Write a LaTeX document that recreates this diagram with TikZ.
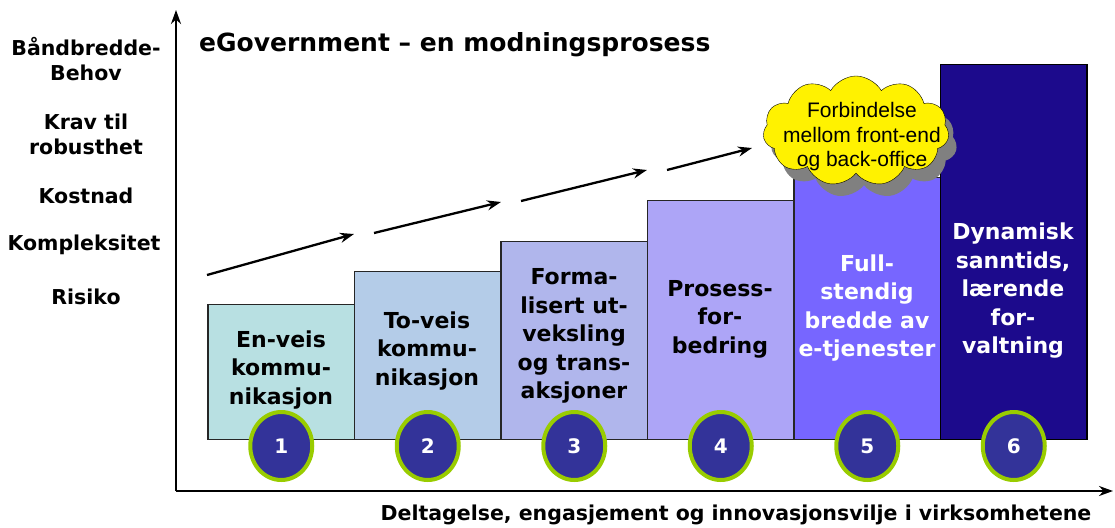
\documentclass[tikz,border=0pt]{standalone}
\usepackage{fontspec}
\setmainfont{DejaVu Sans}
\newfontfamily\cloudfont{Liberation Sans}
\usepackage{tikz}
\usetikzlibrary{arrows.meta,shapes,shadows}
\definecolor{barone}{HTML}{B8E0E2}
\definecolor{bartwo}{HTML}{B4CCE8}
\definecolor{barthree}{HTML}{B0B6EC}
\definecolor{barfour}{HTML}{ADA5F7}
\definecolor{barfive}{HTML}{7766FF}
\definecolor{barsix}{HTML}{1C0A8C}
\definecolor{ballblue}{HTML}{333399}
\definecolor{ballgreen}{HTML}{99CC00}

\begin{document}
\begin{tikzpicture}[x=1pt,y=-1pt,>={Stealth[length=14pt,width=10pt]},
                    every node/.style={inner sep=0pt}]
  \tikzstyle{bar}=[draw=black!85,line width=1.3pt,minimum width=146.5pt,anchor=south]
  \tikzstyle{barlabel}=[align=center,font=\fontsize{22}{28.5}\selectfont\bfseries]
  \tikzstyle{sidelabel}=[align=center,font=\fontsize{20.5}{25}\selectfont\bfseries]
  \tikzstyle{ball}=[ellipse,fill=ballblue,draw=ballgreen,line width=4pt,
                    minimum width=62pt,minimum height=68pt,text=white,
                    font=\fontsize{20}{24}\selectfont\bfseries]
  \tikzstyle{axis}=[->,line width=2.6pt]
  \tikzstyle{trend}=[->,line width=2.3pt]

  \useasboundingbox (0,0) rectangle (1115,527);

  \coordinate (O)    at (176,491);
  \coordinate (YTOP) at (176,10);
  \coordinate (XEND) at (1113,491);
  \draw[axis] (O) -- (YTOP);
  \draw[axis] (O) -- (XEND);

  \node[bar,fill=barone,minimum height=135pt]   (EN)    at (281.25,440) {};
  \node[bar,fill=bartwo,minimum height=168pt]   (TO)    at (427.75,440) {};
  \node[bar,fill=barthree,minimum height=198pt] (FORM)  at (574.25,440) {};
  \node[bar,fill=barfour,minimum height=239pt]  (PROS)  at (720.75,440) {};
  \node[bar,fill=barfive,minimum height=262pt]  (FULL)  at (867.25,440) {};
  \node[bar,fill=barsix,draw=black,minimum height=375pt] (DYN) at (1013.75,440) {};

  \node[barlabel]            (ENL)   at (281,370) {En-veis\\kommu-\\nikasjon};
  \node[barlabel]            (TOL)   at (427,351) {To-veis\\kommu-\\nikasjon};
  \node[barlabel]            (FORML) at (574,336) {Forma-\\lisert ut-\\veksling\\og trans-\\aksjoner};
  \node[barlabel]            (PROSL) at (720,319) {Prosess-\\for-\\bedring};
  \node[barlabel,text=white] (FULLL) at (867,308) {Full-\\stendig\\bredde av\\e-tjenester};
  \node[barlabel,text=white] (DYNL)  at (1013,291) {Dynamisk\\sanntids,\\lærende\\for-\\valtning};

  \coordinate (A1) at (207,275);
  \coordinate (A2) at (354,234);
  \coordinate (A3) at (374,233);
  \coordinate (A4) at (501,202);
  \coordinate (A5) at (521,201);
  \coordinate (A6) at (647,170);
  \coordinate (A7) at (667,170);
  \coordinate (A8) at (752,148);
  \path[trend] (A1) edge (A2)
               (A3) edge (A4)
               (A5) edge (A6)
               (A7) edge (A8);

  \node[cloud,cloud puffs=11,cloud puff arc=120,aspect=1.8,
        minimum width=186pt,minimum height=110pt,fill=yellow,draw=black,
        drop shadow={shadow xshift=8pt,shadow yshift=-12pt,fill=black!50,opacity=1}]
        (CLOUD) at (856,131) {};
  \node[align=center,font=\cloudfont\fontsize{21}{24.5}\selectfont]
        (CLOUDTEXT) at (862,137) {Forbindelse\\mellom front-end\\og back-office};

  \node[ball] (N1) at ([yshift=-6pt]EN.south)   {1};
  \node[ball] (N2) at ([yshift=-6pt]TO.south)   {2};
  \node[ball] (N3) at ([yshift=-6pt]FORM.south) {3};
  \node[ball] (N4) at ([yshift=-6pt]PROS.south) {4};
  \node[ball] (N5) at ([yshift=-6pt]FULL.south) {5};
  \node[ball] (N6) at ([yshift=-6pt]DYN.south)  {6};

  \node[anchor=west,font=\fontsize{25}{28}\selectfont\bfseries]
        (TITLE) at (199,45) {eGovernment – en modningsprosess};

  \node[sidelabel] (BAND)   at (86,59)  {Båndbredde-\\Behov};
  \node[sidelabel] (KRAV)   at (86,134) {Krav til\\robusthet};
  \node[sidelabel] (KOST)   at (86,196) {Kostnad};
  \node[sidelabel] (KOMP)   at (84,245) {Kompleksitet};
  \node[sidelabel] (RISIKO) at (86,297) {Risiko};

  \node[font=\fontsize{20.5}{24}\selectfont\bfseries]
        (XLABEL) at (736,515) {Deltagelse, engasjement og innovasjonsvilje i virksomhetene};
\end{tikzpicture}
\end{document}
